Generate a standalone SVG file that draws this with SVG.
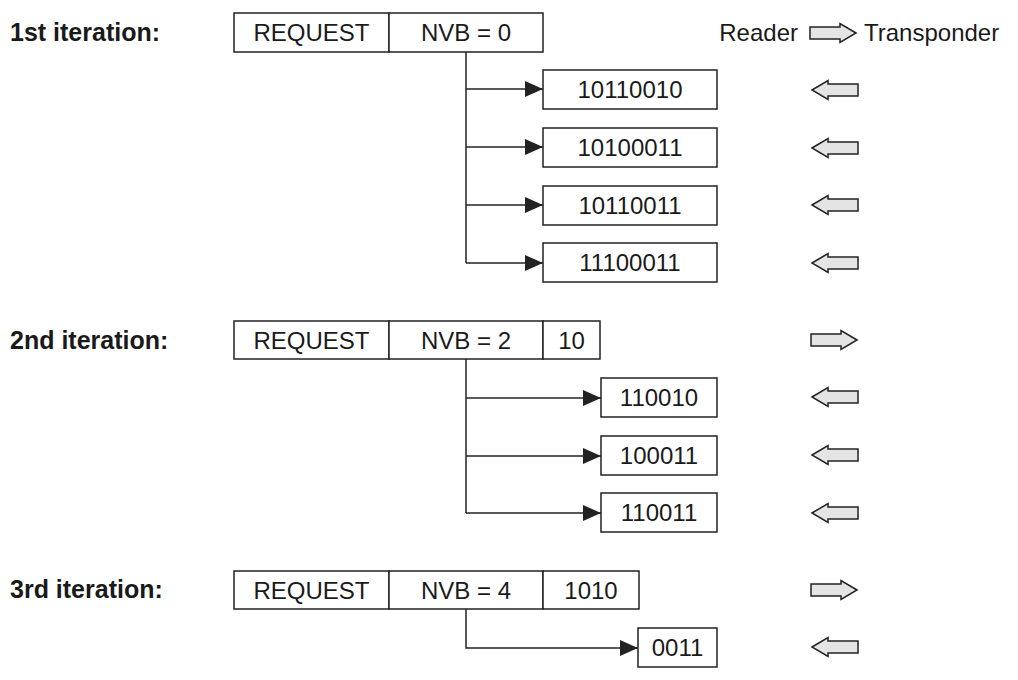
<svg xmlns="http://www.w3.org/2000/svg" width="1018" height="680" viewBox="0 0 1018 680">
<style>
.box{fill:#fff;stroke:#222;stroke-width:1.5}
.t{font-family:"Liberation Sans",Arial,sans-serif;font-size:24px;fill:#1a1a1a;text-anchor:middle}
.lbl{font-family:"Liberation Sans",Arial,sans-serif;font-size:25px;font-weight:bold;fill:#1a1a1a}
.plain{font-family:"Liberation Sans",Arial,sans-serif;font-size:24px;fill:#1a1a1a}
.con{fill:none;stroke:#222;stroke-width:1.5}
.ha{fill:#e4e4e4;stroke:#222;stroke-width:1.5;stroke-linejoin:miter}
</style>
<defs>
<marker id="ah" markerUnits="userSpaceOnUse" markerWidth="20" markerHeight="18" refX="18" refY="8" orient="auto">
<path d="M0,0 L18,8 L0,16 Z" fill="#222"/>
</marker>
<path id="left" class="ha" d="M0,0 L16,-9.5 L16,-6 L46,-6 L46,6 L16,6 L16,9.5 Z"/>
<path id="right" class="ha" d="M46,0 L30,-9.5 L30,-6 L0,-6 L0,6 L30,6 L30,9.5 Z"/>
</defs>

<g id="labels">
<text class="lbl" x="10" y="41">1st iteration:</text>
<text class="lbl" x="10" y="349">2nd iteration:</text>
<text class="lbl" x="10" y="598">3rd iteration:</text>
</g>

<g id="legend">
<text class="plain" x="798" y="41" text-anchor="end">Reader</text>
<use href="#right" x="810" y="33"/>
<text class="plain" x="864" y="41">Transponder</text>
</g>

<g id="req1">
<rect class="box" x="234" y="13" width="155" height="39"/>
<rect class="box" x="389" y="13" width="154" height="39"/>
<text class="t" x="311.5" y="41">REQUEST</text>
<text class="t" x="466" y="41">NVB = 0</text>
</g>
<g id="r1a"><rect class="box" x="543" y="70" width="174" height="39"/><text class="t" x="630" y="98">10110010</text></g>
<g id="r1b"><rect class="box" x="543" y="128" width="174" height="39"/><text class="t" x="630" y="156">10100011</text></g>
<g id="r1c"><rect class="box" x="543" y="186" width="174" height="39"/><text class="t" x="630" y="214">10110011</text></g>
<g id="r1d"><rect class="box" x="543" y="243" width="174" height="39"/><text class="t" x="630" y="271">11100011</text></g>

<g id="req2">
<rect class="box" x="234" y="321" width="155" height="38"/>
<rect class="box" x="389" y="321" width="154" height="38"/>
<rect class="box" x="543" y="321" width="57" height="38"/>
<text class="t" x="311.5" y="349">REQUEST</text>
<text class="t" x="466" y="349">NVB = 2</text>
<text class="t" x="571.5" y="349">10</text>
</g>
<g id="r2a"><rect class="box" x="601" y="378" width="116" height="39"/><text class="t" x="659" y="406">110010</text></g>
<g id="r2b"><rect class="box" x="601" y="436" width="116" height="39"/><text class="t" x="659" y="464">100011</text></g>
<g id="r2c"><rect class="box" x="601" y="493" width="116" height="39"/><text class="t" x="659" y="521">110011</text></g>

<g id="req3">
<rect class="box" x="234" y="571" width="155" height="38"/>
<rect class="box" x="389" y="571" width="154" height="38"/>
<rect class="box" x="543" y="571" width="96" height="38"/>
<text class="t" x="311.5" y="599">REQUEST</text>
<text class="t" x="466" y="599">NVB = 4</text>
<text class="t" x="591" y="599">1010</text>
</g>
<g id="r3a"><rect class="box" x="638" y="628" width="79" height="39"/><text class="t" x="677.5" y="656">0011</text></g>

<g id="connectors">
<path class="con" d="M466,52 V263"/>
<path class="con" d="M466,89 H543" marker-end="url(#ah)"/>
<path class="con" d="M466,147 H543" marker-end="url(#ah)"/>
<path class="con" d="M466,205 H543" marker-end="url(#ah)"/>
<path class="con" d="M466,263 H543" marker-end="url(#ah)"/>
<path class="con" d="M466,359 V513"/>
<path class="con" d="M466,398 H601" marker-end="url(#ah)"/>
<path class="con" d="M466,456 H601" marker-end="url(#ah)"/>
<path class="con" d="M466,513 H601" marker-end="url(#ah)"/>
<path class="con" d="M466,609 V648 H638" marker-end="url(#ah)"/>
</g>

<g id="direction-arrows">
<use href="#left" x="812" y="90"/>
<use href="#left" x="812" y="148"/>
<use href="#left" x="812" y="205"/>
<use href="#left" x="812" y="263"/>
<use href="#right" x="811" y="340"/>
<use href="#left" x="812" y="397"/>
<use href="#left" x="812" y="455"/>
<use href="#left" x="812" y="513"/>
<use href="#right" x="811" y="590"/>
<use href="#left" x="812" y="647"/>
</g>
</svg>
